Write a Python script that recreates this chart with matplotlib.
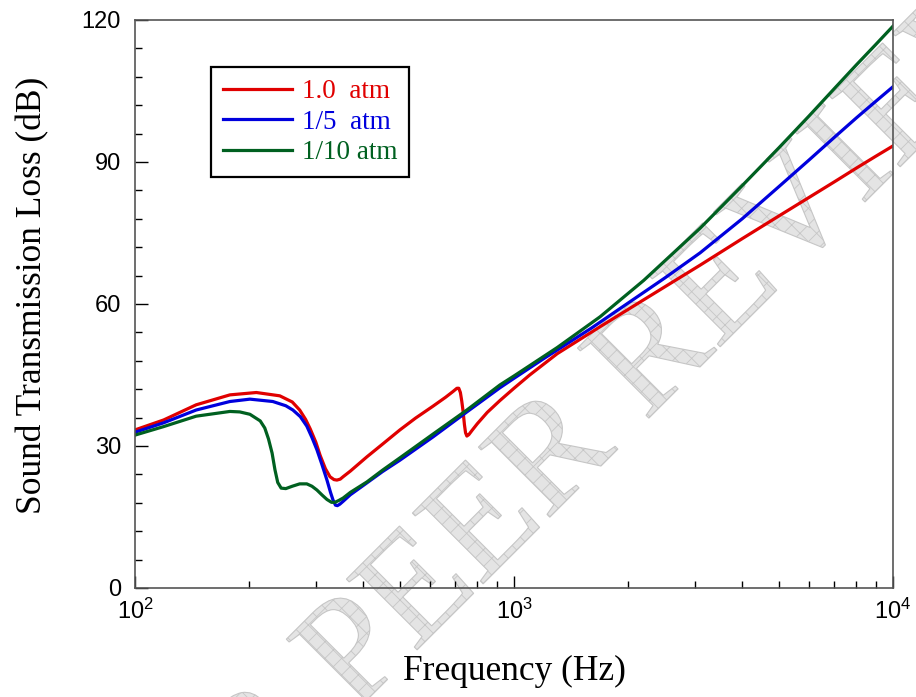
import numpy as np
import matplotlib
matplotlib.use('Agg')
import matplotlib.pyplot as plt
import matplotlib.patheffects as pe
from matplotlib.ticker import LogLocator, MultipleLocator, NullFormatter

freq_red = [100, 119, 145, 178, 209, 241, 260, 272, 282, 290, 300, 308, 318, 327,
            335, 341, 348, 354, 370, 409, 450, 500, 550, 611, 660, 690, 707, 715,
            722, 728, 734, 740, 745, 751, 760, 775, 800, 850, 918, 1000, 1100, 1300,
            1687, 2200, 3097, 4000, 5000, 6000, 7000, 8000, 9000, 10000]
stl_red = [33.4, 35.5, 38.7, 40.8, 41.3, 40.6, 39.3, 37.6, 35.6, 33.6, 30.8, 28.0, 25.2, 23.5,
           22.9, 22.8, 23.0, 23.5, 24.7, 27.7, 30.4, 33.4, 35.9, 38.4, 40.3, 41.5, 42.2, 42.2,
           41.3, 39.5, 37.3, 34.5, 32.8, 32.1, 32.4, 33.3, 34.7, 37.1, 39.6, 42.2, 45.0, 49.5,
           55.2, 60.9, 68.2, 73.8, 78.6, 82.5, 85.8, 88.7, 91.2, 93.4]

freq_blue = [100, 119, 145, 178, 201, 231, 250, 261, 273, 284, 293, 302, 311, 321,
             328, 333, 338, 342, 347, 354, 370, 409, 450, 500, 611, 751, 918, 1000,
             1200, 1600, 2000, 2500, 3097, 4000, 5000, 6000, 7000, 8000, 9000, 10000]
stl_blue = [32.9, 34.9, 37.6, 39.4, 39.9, 39.4, 38.5, 37.6, 36.2, 34.2, 31.8, 29.2, 26.2, 22.8,
            20.2, 18.6, 17.5, 17.4, 17.7, 18.3, 19.7, 22.2, 24.6, 27.0, 31.9, 37.2, 42.3, 44.3,
            48.5, 54.9, 60.2, 65.5, 70.8, 78.0, 84.8, 90.4, 95.2, 99.3, 102.8, 105.9]

freq_green = [100, 119, 145, 178, 189, 201, 214, 220, 225, 230, 234, 238, 243, 250,
              260, 272, 284, 293, 302, 312, 321, 330, 337, 345, 354, 370, 409, 450,
              500, 611, 751, 918, 1000, 1300, 1687, 2200, 3097, 4000, 5000, 6000,
              7000, 8000, 9000, 10000]
stl_green = [32.3, 34.1, 36.3, 37.3, 37.2, 36.7, 35.3, 33.8, 31.5, 28.5, 25.0, 22.3, 21.1, 21.0,
             21.5, 22.0, 22.0, 21.5, 20.7, 19.6, 18.7, 18.1, 18.1, 18.5, 19.0, 20.2, 22.4, 24.9,
             27.5, 32.5, 37.6, 42.9, 44.8, 50.8, 57.3, 65.0, 76.0, 85.0, 93.0, 99.7,
             105.5, 110.5, 114.8, 118.7]

labels = ['1.0  atm', '1/5  atm', '1/10 atm']
colors = ['#e00000', '#0000dd', '#006020']

plt.rcParams['font.family'] = 'Liberation Sans'
plt.rcParams['mathtext.default'] = 'regular'
plt.rcParams['hatch.linewidth'] = 0.6

fig = plt.figure(figsize=(9.16, 6.97), dpi=100)
ax = fig.add_axes([135/916, 1 - 588/697, 758/916, 568/697])
ax.patch.set_alpha(0)

# watermark behind the axes
wm = fig.text(591/916, 1 - 476/697, 'FOR PEER REVIEW', rotation=45, rotation_mode='anchor',
              ha='center', va='baseline', fontsize=110, family='Liberation Serif',
              color='#e2e2e2', zorder=-1)
wm.set_path_effects([pe.PathPatchEffect(facecolor='#e4e4e4', edgecolor='#c6c6c6',
                                        hatch='xx', linewidth=0.8)])

ax.plot(freq_red, stl_red, color=colors[0], lw=2.3, label=labels[0])
ax.plot(freq_blue, stl_blue, color=colors[1], lw=2.3, label=labels[1])
ax.plot(freq_green, stl_green, color=colors[2], lw=2.3, label=labels[2])

ax.set_xscale('log')
ax.set_xlim(100, 10000)
ax.set_ylim(0, 120)
ax.yaxis.set_major_locator(MultipleLocator(30))
ax.yaxis.set_minor_locator(MultipleLocator(6))
ax.xaxis.set_minor_locator(LogLocator(base=10, subs=np.arange(2, 10)))
ax.xaxis.set_minor_formatter(NullFormatter())

ax.tick_params(which='both', direction='in', top=False, right=False, labelsize=17)
ax.tick_params(which='major', length=9, width=1)
ax.tick_params(which='minor', length=5, width=1)
ax.tick_params(axis='x', pad=8)
ax.tick_params(axis='y', pad=10)
for s in ax.spines.values():
    s.set_color('#555555')
    s.set_linewidth(1.2)

ax.set_xlabel('Frequency (Hz)', family='Liberation Serif', fontsize=25.5, labelpad=22)
ax.set_ylabel('Sound Transmission Loss (dB)', family='Liberation Serif', fontsize=25.5)
ax.yaxis.set_label_coords(-0.113, 0.516)

leg = ax.legend(loc='upper left', bbox_to_anchor=((211-135)/758, (588-67)/568),
                borderaxespad=0, fancybox=False, framealpha=1, edgecolor='black',
                prop={'family': 'Liberation Serif', 'size': 19.5},
                handlelength=2.55, handletextpad=0.35, labelspacing=0.2, borderpad=0.45)
leg.get_frame().set_linewidth(1.6)
for t, c in zip(leg.get_texts(), colors):
    t.set_color(c)

fig.savefig('out.png', dpi=100)
